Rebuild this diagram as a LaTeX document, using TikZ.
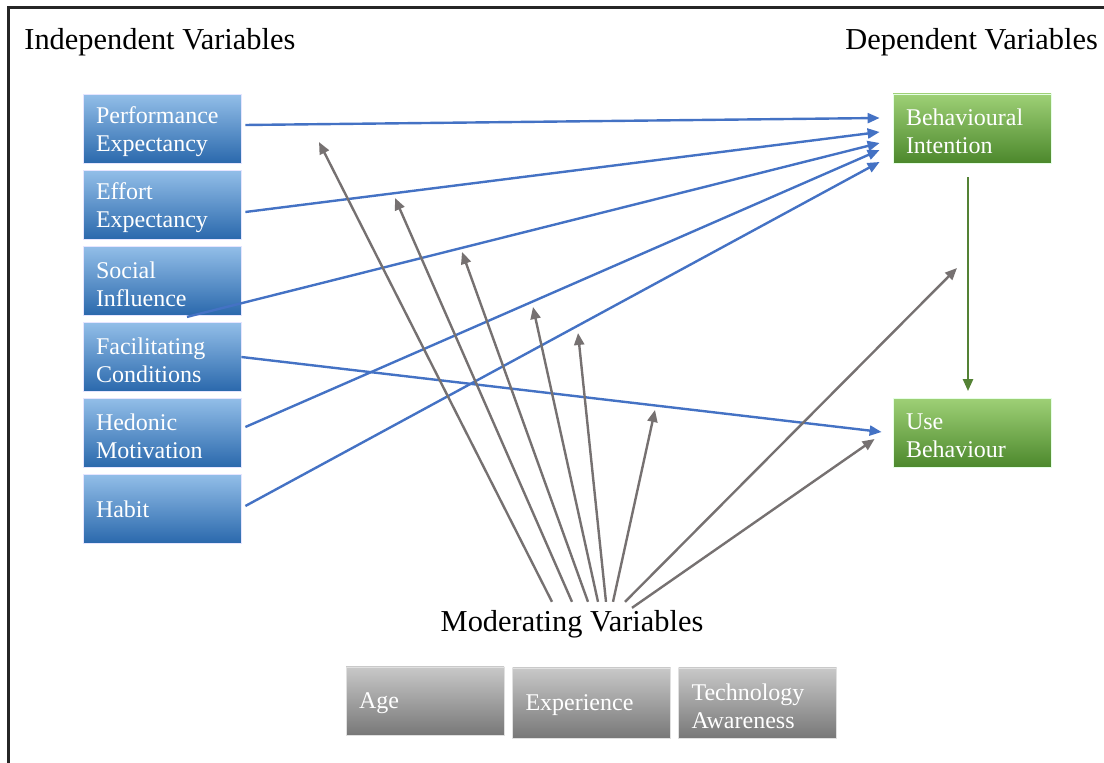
\documentclass[tikz,border=0pt]{standalone}
\usepackage{fontspec}
\setmainfont{Liberation Serif}
\usetikzlibrary{arrows.meta,calc}
\definecolor{lineblue}{RGB}{68,114,196}
\definecolor{modgray}{RGB}{118,113,113}
\definecolor{depgreen}{RGB}{84,130,53}
\tikzset{
  varbox/.style={minimum width=79pt,minimum height=34.5pt,inner xsep=6.5pt,
    execute at end node={\par\vspace{-3pt}},
    text width=66pt,align=left,text=white,font=\fontsize{12}{14}\selectfont},
  indep/.style={varbox,top color={rgb,255:red,146;green,190;blue,232},
    bottom color={rgb,255:red,42;green,104;blue,172},draw=white!90!blue,line width=0.4pt},
  dep/.style={varbox,top color={rgb,255:red,158;green,208;blue,118},
    bottom color={rgb,255:red,76;green,136;blue,44},draw=white!90!green,line width=0.4pt},
  moder/.style={varbox,top color={rgb,255:red,200;green,200;blue,200},
    bottom color={rgb,255:red,120;green,120;blue,120},draw=black!12,line width=0.4pt},
  heading/.style={font=\fontsize{15.2}{18}\selectfont,anchor=base west,inner sep=0pt},
  blueline/.style={draw=lineblue,line width=1.2pt,-{Triangle[length=6pt,width=5pt]}},
  grayline/.style={draw=modgray,line width=1.2pt,-{Triangle[length=6pt,width=5pt]}},
  greenline/.style={draw=depgreen,line width=1.2pt,-{Triangle[length=6pt,width=5pt]}}
}
\begin{document}
\begin{tikzpicture}[x=0.5pt,y=-0.5pt]
\useasboundingbox (0,0) rectangle (1104,763);
\draw[line width=1.5pt,black!85] (8,763) -- (8,8) -- (1104,8); % frame
\node[heading] (iv) at (24,50) {Independent Variables};
\node[heading] (dv) at (845,50) {Dependent Variables};
% left column, one box every 76 px
\foreach \name/\txt [count=\i from 0] in {pe/Performance\\Expectancy,ee/Effort\\Expectancy,
    si/Social\\Influence,fc/Facilitating\\Conditions,hm/Hedonic\\Motivation,hb/Habit}
  \node[indep] (\name) at (162,{129+76*\i}) {\txt};
\node[dep] (bi) at (972,128.5) {Behavioural\\Intention};
\node[dep] (ub) at (972,433) {Use\\Behaviour};
\node[font=\fontsize{15.2}{18}\selectfont,anchor=base] (mod) at (572,632) {Moderating Variables};
\node[moder,minimum width=78pt,minimum height=34pt] (age) at (425,701) {Age};
\node[moder,minimum height=35pt] (exp) at (591.5,703) {Experience};
\node[moder,minimum height=35pt] (tech) at (757.5,703) {Technology\\Awareness};
% blue paths
\draw[blueline] ($(pe.east)+(4,-4)$) -- ($(bi.west)+(-13,-10.5)$);
\draw[blueline] ($(ee.east)+(4,7)$) -- ($(bi.west)+(-13,3.5)$);
\draw[blueline] ($(si.south)+(25,1)$) -- ($(bi.west)+(-13,14.5)$);
\draw[blueline] ($(hm.east)+(4,-6)$) -- ($(bi.west)+(-13,21.5)$);
\draw[blueline] ($(hb.east)+(4,-3)$) -- ($(bi.west)+(-13,33.5)$);
\draw[blueline] (fc.east) -- ($(ub.west)+(-11,-1)$);
\draw[greenline] ($(bi.south)+(-4,14)$) -- ($(ub.north)+(-4,-7)$);
% moderator arrows
\foreach \ex/\ey [count=\k] in {319/142,395/198,462/252,533/307,578/333,655/410,957/268}
  \coordinate (tip\k) at (\ex,\ey);
\foreach \dx/\k in {-20/1,0/2,16/3,26/4,34/5,41/6,53/7}
  \draw[grayline] ($(mod.north)+(\dx,-2)$) -- (tip\k);
\draw[grayline] ($(mod.north)+(60,4)$) -- ($(ub.west)+(-18,6)$);
\end{tikzpicture}
\end{document}
